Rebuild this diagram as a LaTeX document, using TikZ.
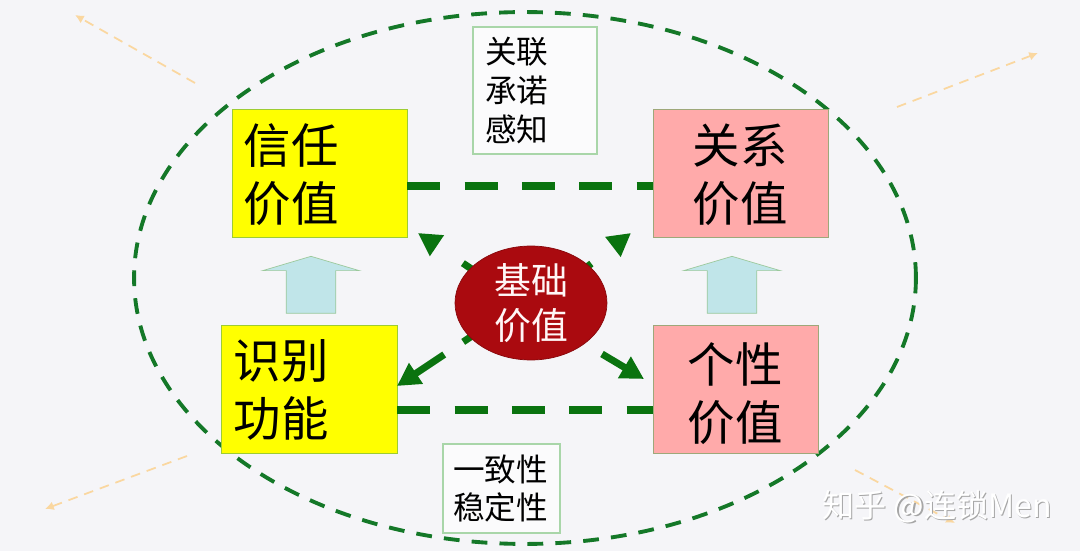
\documentclass[tikz,border=0pt]{standalone}
\usepackage{fontspec}
\setmainfont{Noto Sans CJK SC}
\usepackage{xcolor}
\usetikzlibrary{shapes.geometric,shapes.arrows,arrows.meta,positioning}
\definecolor{pagebg}{RGB}{245,245,248}
\definecolor{loopgreen}{RGB}{20,120,40}
\definecolor{flowgreen}{RGB}{10,115,15}
\definecolor{softyellow}{RGB}{255,255,0}
\definecolor{softred}{RGB}{255,170,170}
\definecolor{basered}{RGB}{170,10,15}
\definecolor{paleblue}{RGB}{192,229,233}
\definecolor{faintorange}{RGB}{250,215,160}
\tikzset{
	valuebox/.style={draw=#1!70!green!60!gray,line width=0.5pt,fill=#1,minimum height=2.56cm,inner sep=0pt},
	valuetext/.style={font=\fontsize{27}{33}\selectfont,align=left,text=black},
	notebox/.style={draw=green!35!gray!50,line width=0.6pt,fill=white!60!pagebg,font=\fontsize{18}{22}\selectfont,align=left,inner ysep=0pt},
	linkdash/.style={line width=4pt,draw=flowgreen,dash pattern=on 18.7pt off 13.9pt},
	flowarrow/.style={line width=4pt,draw=flowgreen,-{Triangle[length=13pt,width=13.5pt]}},
	uparrow/.style={single arrow,draw=green!30!gray!60,fill=paleblue,shape border rotate=90,single arrow head extend=0.47cm,single arrow tip angle=147,minimum width=1.92cm,minimum height=1.14cm,inner xsep=0.49cm,inner ysep=0pt},
	sidearrow/.style={line width=1pt,faintorange,dash pattern=on 5.5pt off 4pt,-{Latex[length=5pt,width=5pt]}},
	markfont/.style={font=\fontsize{18.3}{22}\selectfont,inner sep=0pt}
}
\begin{document}
\begin{tikzpicture}[x=0.02cm,y=-0.02cm]
	\fill[pagebg] (0,0) rectangle (1080,551);
	% free ends
	\coordinate (sideA) at (195,83);
	\coordinate (sideAend) at (75,15);
	\coordinate (sideB) at (897,107);
	\coordinate (sideBend) at (1038,53);
	\coordinate (sideC) at (187,456);
	\coordinate (sideCend) at (45,509);
	\coordinate (sideD) at (855,470);
	\coordinate (sideDend) at (955,523);
	\draw[sidearrow] (sideA) -- (sideAend);
	\draw[sidearrow] (sideB) -- (sideBend);
	\draw[sidearrow] (sideC) -- (sideCend);
	\draw[sidearrow] (sideD) -- (sideDend);
	\node[ellipse,draw=loopgreen,line width=2.2pt,dash pattern=on 9pt off 6.9pt,minimum width=15.64cm,minimum height=10.64cm,inner sep=0pt] (loop) at (525,278) {};
	% value boxes
	\node[valuebox=softyellow,minimum width=3.5cm] (trust) at (319.5,173.5) {};
	\node[valuebox=softred,minimum width=3.5cm] (relation) at (740.5,173.5) {};
	\node[valuebox=softyellow,minimum width=3.52cm] (identify) at (309,389) {};
	\node[valuebox=softred,minimum width=3.3cm] (person) at (735.5,389) {};
	\node[valuetext] at (291,175) (trustlabel) {信任\\价值};
	\node[valuetext] at (740,175) (relationlabel) {关系\\价值};
	\node[valuetext] at (281,390) (identifylabel) {识别\\功能};
	\node[valuetext] at (735,394) (personlabel) {个性\\价值};
	% notes
	\node[notebox,inner xsep=0.24cm,text width=2.0cm,minimum height=2.54cm] (linknote) at (535,90.5) {关联\\承诺\\感知};
	\node[notebox,inner xsep=0.2cm,text width=1.94cm,minimum height=1.78cm] (steadynote) at (501.5,488.5) {一致性\\稳定性};
	% links between boxes
	\draw[linkdash] (trust.east |- 0,186) -- (relation.west |- 0,186);
	\draw[linkdash] (identify.east |- 0,410) -- (person.west |- 0,410);
	% block arrows
	\node[uparrow] (upleft) at (311,288.5) {};
	\node[uparrow] (upright) at (732,288.5) {};
	% centre and its arrows
	\coordinate (tipA) at (418,233);
	\coordinate (tipB) at (631,233);
	\coordinate (tipC) at (397,386);
	\coordinate (tipD) at (644,379);
	\coordinate (midA) at (476,272);
	\coordinate (midB) at (583,270);
	\coordinate (midC) at (472,336);
	\coordinate (midD) at (602,354);
	\draw[flowarrow,dash pattern=on 9pt off 40pt] (midA) -- (tipA);
	\draw[flowarrow,dash pattern=on 6pt off 40pt] (midB) -- (tipB);
	\draw[flowarrow,dash pattern=on 6pt off 13pt on 40pt] (midC) -- (tipC);
	\draw[flowarrow] (midD) -- (tipD);
	\node[ellipse,draw=basered!80!black,fill=basered,minimum width=3.04cm,minimum height=2.28cm,inner sep=0pt,align=center,text=white!85!pink,font=\fontsize{21}{26}\selectfont] (base) at (531,303) {基础\\价值};
	% watermark
	\node[markfont,text=gray!70] (markshadow) at (938.5,508) {知乎 @连锁Men};
	\node[markfont,text=white] (mark) at (937,506.5) {知乎 @连锁Men};
\end{tikzpicture}
\end{document}
